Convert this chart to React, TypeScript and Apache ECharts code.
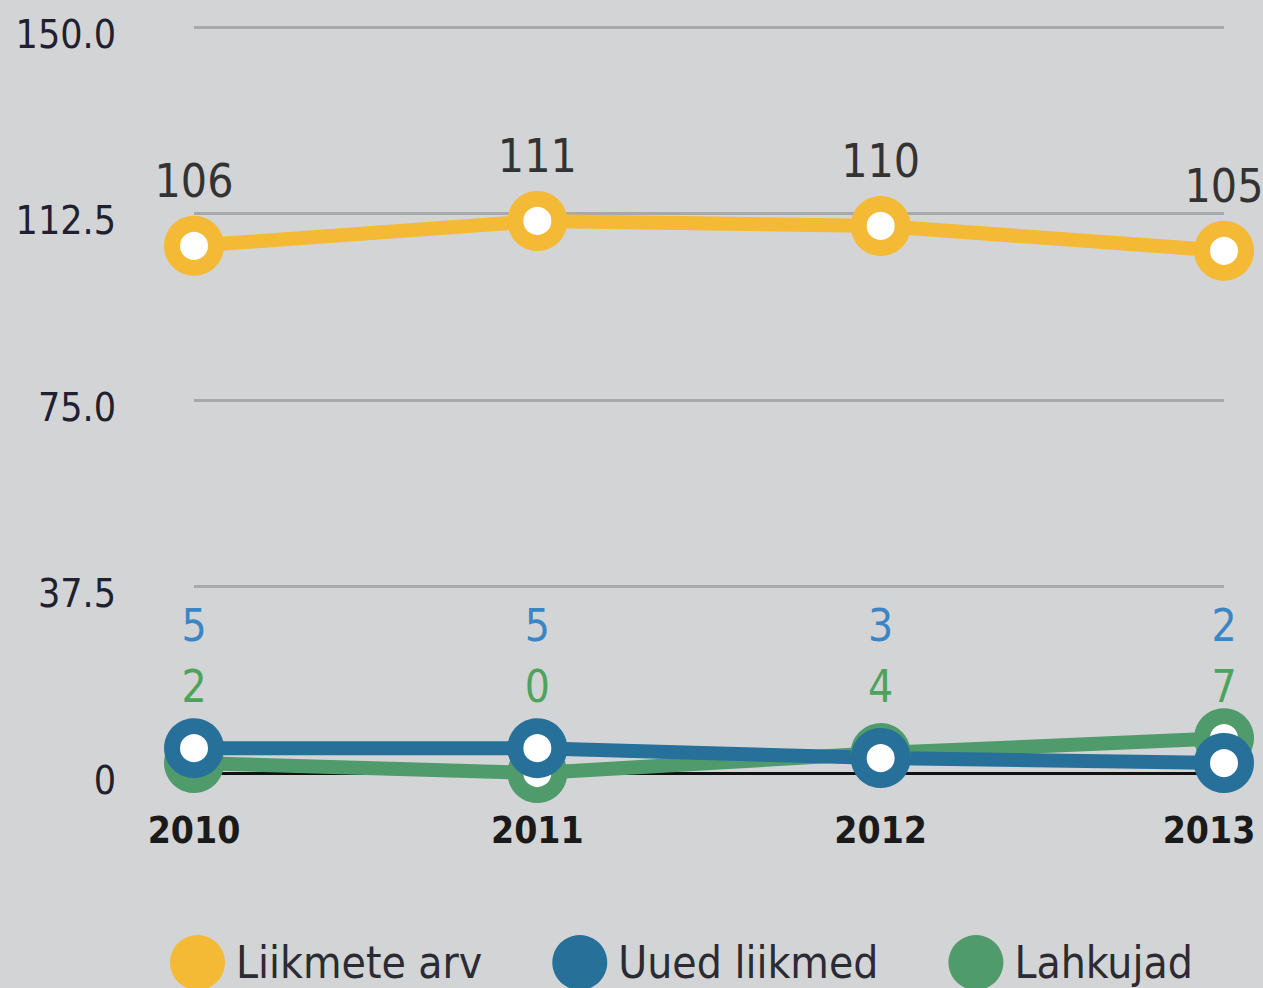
import React, { useEffect, useRef } from "react";
import * as echarts from "echarts";

const years = ["2010", "2011", "2012", "2013"];
const liikmeteArv = [106, 111, 110, 105];
const uuedLiikmed = [5, 5, 3, 2];
const lahkujad = [2, 0, 4, 7];
const yTicks = [0, 37.5, 75, 112.5, 150];

const FONT = "'Liberation Sans Narrow', 'DejaVu Sans Condensed', 'Liberation Sans', sans-serif";
const YELLOW = "#f4b935";
const BLUE = "#27709a";
const GREEN = "#4f9b6b";
const SYMBOL = 44;

export default function App() {
  const ref = useRef<HTMLDivElement>(null);
  useEffect(() => {
    const chart = echarts.init(ref.current!, null, { renderer: "svg" });
    const symbolStyle = (c: string) => ({ color: "#ffffff", borderColor: c, borderWidth: 16 });
    chart.setOption({
      animation: false,
      backgroundColor: "#d3d4d6",
      textStyle: { fontFamily: FONT },
      grid: { left: 194, right: 39, top: 27, bottom: 215, containLabel: false, outerBoundsMode: "none" },
      legend: {
        left: 165,
        top: 930,
        icon: "circle",
        itemWidth: 55,
        itemHeight: 55,
        itemGap: 70,
        data: [
          { name: "Liikmete arv", itemStyle: { color: YELLOW, borderWidth: 0 } },
          { name: "Uued liikmed", itemStyle: { color: BLUE, borderWidth: 0 } },
          { name: "Lahkujad", itemStyle: { color: GREEN, borderWidth: 0 } },
        ],
        textStyle: { fontFamily: FONT, fontSize: 44, color: "#2b2b33", padding: [0, 0, 0, 6] },
      },
      xAxis: [
        {
          type: "category",
          data: years,
          boundaryGap: false,
          axisLine: { show: true, lineStyle: { color: "#111", width: 3 } },
          axisTick: { show: false },
          axisLabel: {
            fontFamily: FONT,
            fontSize: 37,
            fontWeight: "bold",
            color: "#1a1a1a",
            margin: 39,
            formatter: (v: string, i: number) => (i === years.length - 1 ? "{r|" + v + "}" : v),
            rich: { r: { fontFamily: FONT, fontSize: 37, fontWeight: "bold", color: "#1a1a1a", padding: [0, 30, 0, 0] } },
          },
          splitLine: { show: false },
        },
        {
          type: "category",
          data: years,
          boundaryGap: false,
          position: "bottom",
          offset: -170,
          axisLine: { show: false },
          axisTick: { show: false },
          splitLine: { show: false },
          axisLabel: {
            fontFamily: FONT,
            fontSize: 44,
            color: "#3a86c5",
            margin: 0,
            formatter: (_v: string, i: number) => String(uuedLiikmed[i]),
          },
        },
        {
          type: "category",
          data: years,
          boundaryGap: false,
          position: "bottom",
          offset: -109,
          axisLine: { show: false },
          axisTick: { show: false },
          splitLine: { show: false },
          axisLabel: {
            fontFamily: FONT,
            fontSize: 44,
            color: "#4ea35c",
            margin: 0,
            formatter: (_v: string, i: number) => String(lahkujad[i]),
          },
        },
      ],
      yAxis: {
        type: "value",
        min: yTicks[0],
        max: yTicks[yTicks.length - 1],
        interval: yTicks[1] - yTicks[0],
        axisLine: { show: false },
        axisTick: { show: false },
        axisLabel: {
          fontFamily: FONT,
          fontSize: 39,
          color: "#1f2030",
          margin: 78,
          formatter: (v: number) => "{a|" + (v === 0 ? "0" : v.toFixed(1)) + "}",
          rich: { a: { fontFamily: FONT, fontSize: 39, color: "#1f2030", padding: [14, 0, 0, 0] } },
        },
        splitLine: { show: true, lineStyle: { color: "#a7a8aa", width: 3 } },
      },
      series: [
        {
          name: "Liikmete arv",
          type: "line",
          data: liikmeteArv,
          color: YELLOW,
          symbol: "circle",
          symbolSize: SYMBOL,
          lineStyle: { color: YELLOW, width: 14 },
          itemStyle: symbolStyle(YELLOW),
          label: {
            show: true,
            position: "top",
            distance: 12,
            fontFamily: FONT,
            fontSize: 46,
            color: "#333333",
          },
        },
        {
          name: "Lahkujad",
          type: "line",
          data: lahkujad,
          color: GREEN,
          symbol: "circle",
          symbolSize: SYMBOL,
          lineStyle: { color: GREEN, width: 14 },
          itemStyle: symbolStyle(GREEN),
        },
        {
          name: "Uued liikmed",
          type: "line",
          data: uuedLiikmed,
          color: BLUE,
          symbol: "circle",
          symbolSize: SYMBOL,
          lineStyle: { color: BLUE, width: 14 },
          itemStyle: symbolStyle(BLUE),
        },
      ],
    });
    return () => chart.dispose();
  }, []);
  return (
    <div
      ref={ref}
      style={{ position: "fixed", left: 0, top: 0, width: 1263, height: 988, background: "#d3d4d6" }}
    />
  );
}
